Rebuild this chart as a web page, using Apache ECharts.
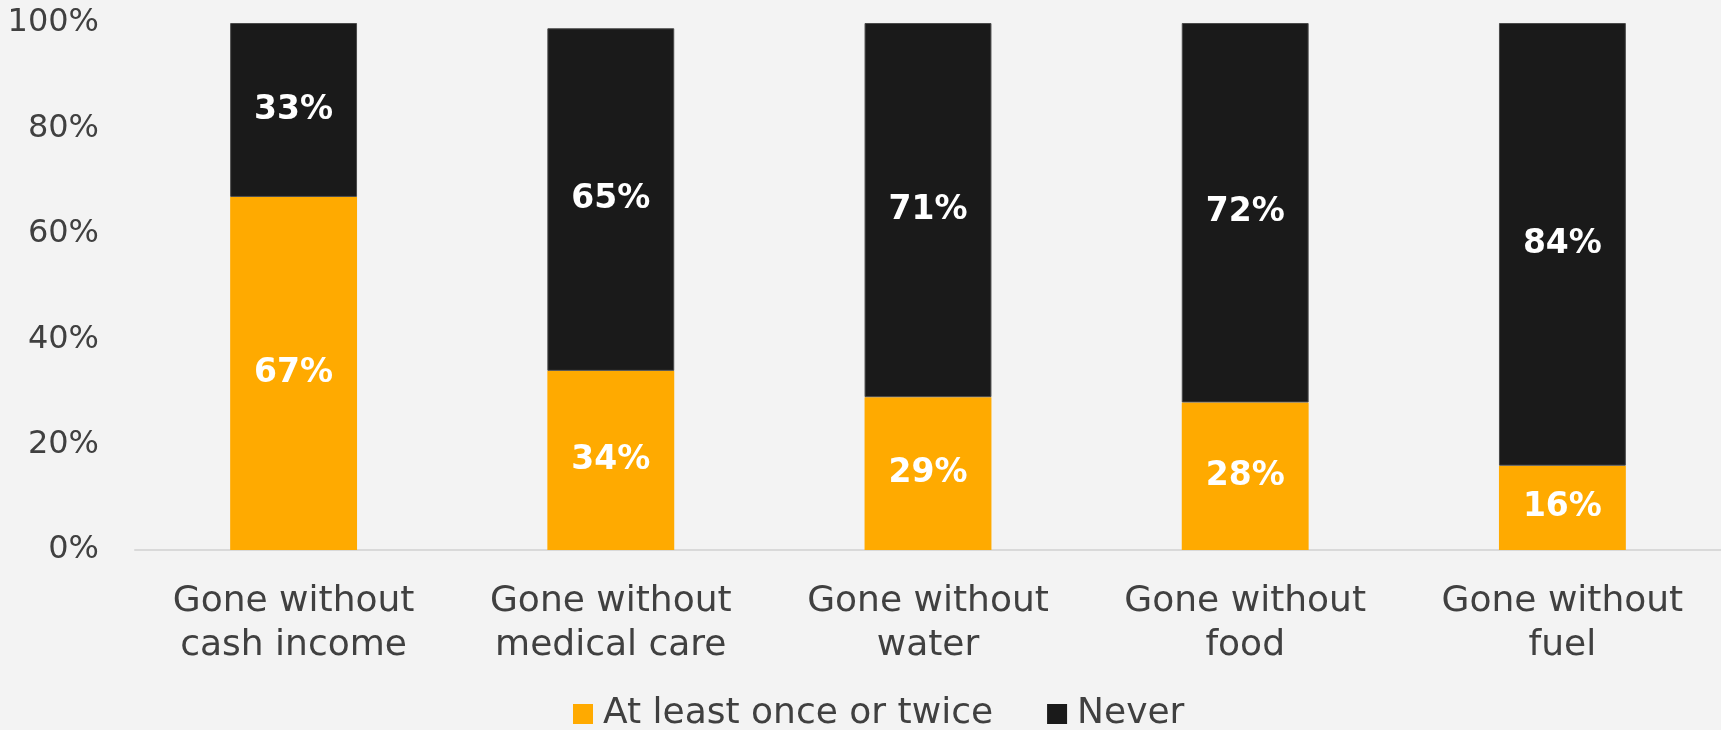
<!DOCTYPE html>
<html>
<head>
<meta charset="utf-8">
<script src="https://cdn.jsdelivr.net/npm/echarts@6/dist/echarts.min.js"></script>
<style>
  html, body { margin: 0; padding: 0; background: #f3f3f3; }
  #chart { width: 1721px; height: 730px; }
</style>
</head>
<body>
<div id="chart"></div>
<script>
// Survey categories and shares (percent of respondents)
const categories = [
  'Gone without\ncash income',
  'Gone without\nmedical care',
  'Gone without\nwater',
  'Gone without\nfood',
  'Gone without\nfuel'
];
const atLeastOnce = [67, 34, 29, 28, 16];
const never = [33, 65, 71, 72, 84];
const yTicks = [0, 20, 40, 60, 80, 100];

const FONT = 'DejaVu Sans';
const chart = echarts.init(document.getElementById('chart'));

const valueLabel = {
  show: true,
  position: 'inside',
  color: '#ffffff',
  fontFamily: FONT,
  fontWeight: 'bold',
  fontSize: 33,
  formatter: p => p.value + '%'
};

chart.setOption({
  backgroundColor: '#f3f3f3',
  animation: false,
  grid: { left: 135, right: 0, top: 23, bottom: 180, containLabel: false },
  legend: {
    left: 573,
    top: 696,
    padding: 0,
    icon: 'rect',
    itemWidth: 20,
    itemHeight: 20,
    itemGap: 54,
    itemStyle: { borderWidth: 0 },
    textStyle: { color: '#404040', fontFamily: FONT, fontSize: 36, padding: [0, 0, 0, 5] },
    data: ['At least once or twice', 'Never']
  },
  xAxis: {
    type: 'category',
    data: categories,
    axisLine: { lineStyle: { color: '#d9d9d9', width: 2 } },
    axisTick: { show: false },
    axisLabel: {
      color: '#404040',
      fontFamily: FONT,
      fontSize: 36,
      lineHeight: 44,
      margin: 30,
      interval: 0
    }
  },
  yAxis: {
    type: 'value',
    min: yTicks[0],
    max: yTicks[yTicks.length - 1],
    interval: 20,
    splitLine: { show: false },
    axisLine: { show: false },
    axisTick: { show: false },
    axisLabel: {
      color: '#404040',
      fontFamily: FONT,
      fontSize: 32,
      margin: 36,
      formatter: v => v + '%'
    }
  },
  series: [
    {
      name: 'At least once or twice',
      type: 'bar',
      stack: 'total',
      barWidth: '40%',
      data: atLeastOnce,
      itemStyle: { color: '#ffaa00' },
      label: valueLabel
    },
    {
      name: 'Never',
      type: 'bar',
      stack: 'total',
      barWidth: '40%',
      data: never,
      itemStyle: { color: '#1a1a1a', borderColor: '#4a4a4a', borderWidth: 1 },
      label: valueLabel
    }
  ]
});
</script>
</body>
</html>
